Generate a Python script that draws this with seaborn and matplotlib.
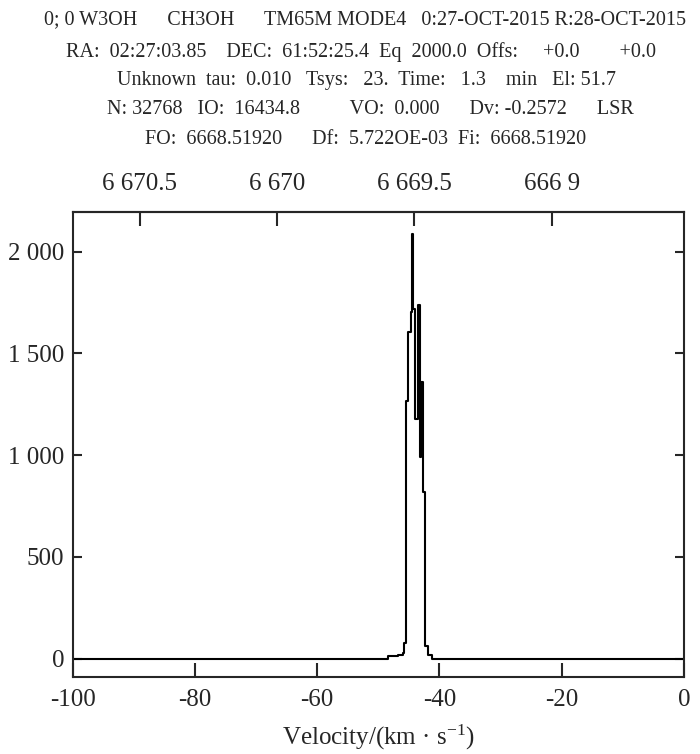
import numpy as np
import pandas as pd
import matplotlib
matplotlib.use("Agg")
import matplotlib.pyplot as plt
import seaborn as sns
from matplotlib.ticker import FuncFormatter

# espectro (bordes izquierdos de los canales en km/s, y su intensidad)
velocity = [-100.0, -48.40, -46.76, -46.02, -45.78, -45.50, -45.07, -44.68,
            -44.52, -44.26, -44.03, -43.57, -43.16, -42.95, -42.62, -42.29,
            -41.80, -41.24, 0.0]
intensity = [0, 13, 18, 28, 76, 1267, 1606, 1704,
             2085, 1719, 1180, 1738, 990, 1360, 820, 62,
             18, 0, 0]

# eje superior: frecuencias
rest_freq = 6668.51920
freq_ticks = [6670.5, 6670.0, 6669.5, 6669.0]
freq_labels = ["6 670.5", "6 670", "6 669.5", "666 9"]

vel_ticks = [-100, -80, -60, -40, -20, 0]
int_ticks = [0, 500, 1000, 1500, 2000]

# cabecera del espectro
header = [
    "0; 0 W3OH      CH3OH      TM65M MODE4   0:27-OCT-2015 R:28-OCT-2015",
    "RA:  02:27:03.85    DEC:  61:52:25.4  Eq  2000.0  Offs:     +0.0        +0.0",
    "Unknown  tau:  0.010   Tsys:   23.  Time:   1.3    min   El: 51.7",
    "N: 32768   IO:  16434.8          VO:  0.000      Dv: -0.2572      LSR",
    "FO:  6668.51920      Df:  5.722OE-03  Fi:  6668.51920",
]
header_x = [365, 361, 367, 370, 366]
header_y = [20, 52, 81, 110, 139]

sns.set_style("ticks")
plt.rcParams['font.family'] = ['Liberation Serif', 'DejaVu Serif']
plt.rcParams['axes.unicode_minus'] = False
plt.rcParams['mathtext.fontset'] = 'stix'

df = pd.DataFrame({'v': velocity, 'T': intensity})

W, H = 700, 754
fig = plt.figure(figsize=(W / 100, H / 100), dpi=100)
ax = fig.add_axes([72.7 / W, 1 - 677 / H, (684 - 72.7) / W, (677 - 212) / H])

sns.lineplot(data=df, x='v', y='T', ax=ax, color='black', linewidth=1.5,
             drawstyle='steps-post', sort=False, estimator=None)

ax.set_xlim(-100, 0)
ax.set_ylim(-90, 2195)
ax.set_xticks(vel_ticks)
ax.set_yticks(int_ticks)
ax.yaxis.set_major_formatter(FuncFormatter(lambda y, p: f"{int(y):,}".replace(",", " ")))
ax.set_xlabel("Velocity/(km · s$^{\\mathregular{-1}}$)", fontsize=18, labelpad=8)
ax.set_ylabel("")

for s in ax.spines.values():
    s.set_linewidth(1.5)
    s.set_visible(True)

ax.tick_params(axis='x', which='major', direction='in', length=10, width=1.5,
               labelsize=18, pad=9, top=False)
ax.tick_params(axis='y', which='major', direction='in', length=6.5, width=1.5,
               labelsize=18, right=True, pad=6)


def v2f(v):
    return rest_freq * (1 - np.asarray(v) / 299792.458)


def f2v(f):
    return 299792.458 * (1 - np.asarray(f) / rest_freq)


top = ax.secondary_xaxis('top', functions=(v2f, f2v))
top.set_xticks(freq_ticks)
top.set_xticklabels(freq_labels)
top.tick_params(direction='in', length=10, width=1.5, labelsize=18, pad=12)
top.spines['top'].set_linewidth(1.5)

for x, y, txt in zip(header_x, header_y, header):
    fig.text(x / W, 1 - y / H, txt, fontsize=14.5, ha='center', va='center')

fig.savefig("out.png", dpi=100)
